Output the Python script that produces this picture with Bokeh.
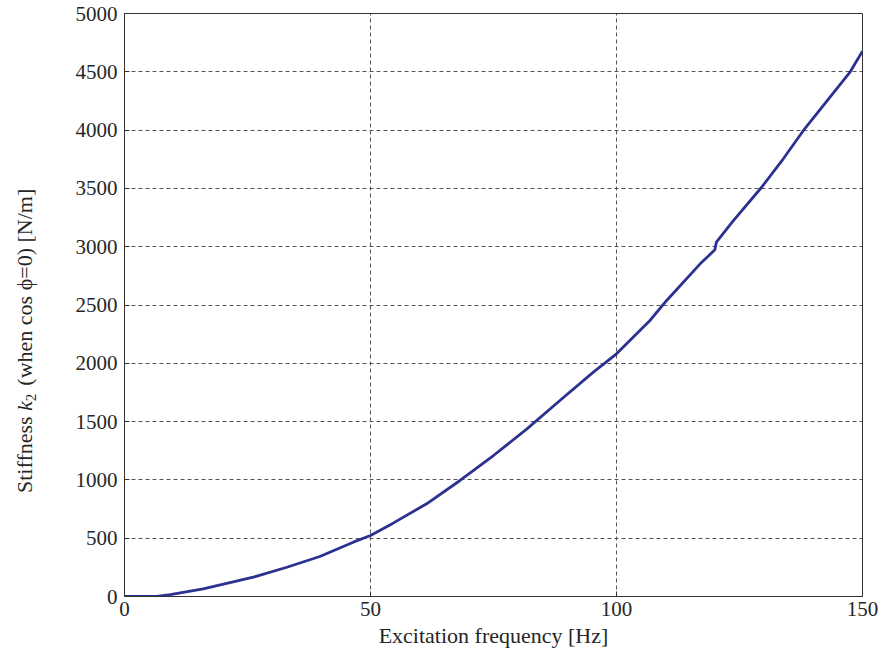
from bokeh.plotting import figure
from bokeh.layouts import row
from bokeh.models import Range1d, FixedTicker, Div
from bokeh.embed import file_html
from bokeh.resources import INLINE

# Excitation frequency [Hz] and the matching stiffness k2 [N/m]
freq_hz = [0, 6.6, 9.3, 16.0, 26.2, 33.0, 39.7, 46.5, 50.0, 54.6, 61.4, 68.2,
           75.0, 81.8, 88.5, 95.3, 100.0, 106.8, 110.2, 117.0, 120.0, 120.3,
           123.8, 129.5, 133.9, 138.0, 147.5, 150.0]
stiffness = [0, 0, 17, 66, 166, 251, 343, 466, 523, 629, 795, 995,
             1209, 1438, 1681, 1924, 2081, 2367, 2539, 2853, 2973, 3039,
             3225, 3510, 3754, 3997, 4500, 4677]

x_ticks = [0, 50, 100, 150]
y_ticks = [0, 500, 1000, 1500, 2000, 2500, 3000, 3500, 4000, 4500, 5000]

FONT = "Liberation Serif"
TEXT = "#262626"
W, H = 883, 659
TITLE_W = 40

# --- main plot -------------------------------------------------------------
p = figure(width=W - TITLE_W, height=H, output_backend="svg",
           toolbar_location=None,
           x_range=Range1d(0, 150), y_range=Range1d(0, 5000),
           min_border_left=124 - TITLE_W, min_border_right=21,
           min_border_top=13, min_border_bottom=63)
p.background_fill_color = "white"
p.border_fill_color = "white"
p.outline_line_color = "#333333"
p.outline_line_width = 1

p.line(freq_hz, stiffness, line_color="#2B3190", line_width=2.8)

for ax in (p.xaxis[0], p.yaxis[0]):
    ax.axis_line_color = "#333333"
    ax.major_tick_line_color = "#333333"
    ax.major_tick_in = 5
    ax.major_tick_out = 0
    ax.minor_tick_line_color = None
    ax.major_label_text_font = FONT
    ax.major_label_text_font_size = "21px"
    ax.major_label_text_color = TEXT

p.xaxis.ticker = FixedTicker(ticks=x_ticks)
p.yaxis.ticker = FixedTicker(ticks=y_ticks)
p.xaxis.major_label_standoff = 5
p.yaxis.major_label_standoff = 7

p.xaxis.axis_label = "Excitation frequency [Hz]"
p.xaxis.axis_label_text_font = FONT
p.xaxis.axis_label_text_font_size = "22px"
p.xaxis.axis_label_text_font_style = "normal"
p.xaxis.axis_label_text_color = TEXT
p.xaxis.axis_label_standoff = 4

for g in (p.xgrid[0], p.ygrid[0]):
    g.grid_line_color = "#555555"
    g.grid_line_dash = "4 3"
    g.grid_line_width = 1
p.xgrid.ticker = FixedTicker(ticks=x_ticks)
p.ygrid.ticker = FixedTicker(ticks=y_ticks)

# --- rotated y-axis title (italic k with subscript 2) -----------------------
title_html = (
    '<div style="position:absolute; left:12px; top:493px; '
    'transform:rotate(-90deg); transform-origin:left top; '
    'white-space:nowrap; line-height:26px; '
    f"font-family:'{FONT}', serif; font-size:22px; color:{TEXT};\">"
    'Stiffness <i>k</i><sub style="font-size:15px; vertical-align:-4px;">2</sub>'
    '<span style="margin-left:8px;">(when cos \u03d5=0) [N/m]</span>'
    '</div>'
)
title = Div(text=title_html, width=TITLE_W, height=H, margin=0,
            styles={"position": "relative", "overflow": "visible"})

layout = row(title, p, spacing=0)
open("out.html", "w").write(file_html(layout, INLINE))
